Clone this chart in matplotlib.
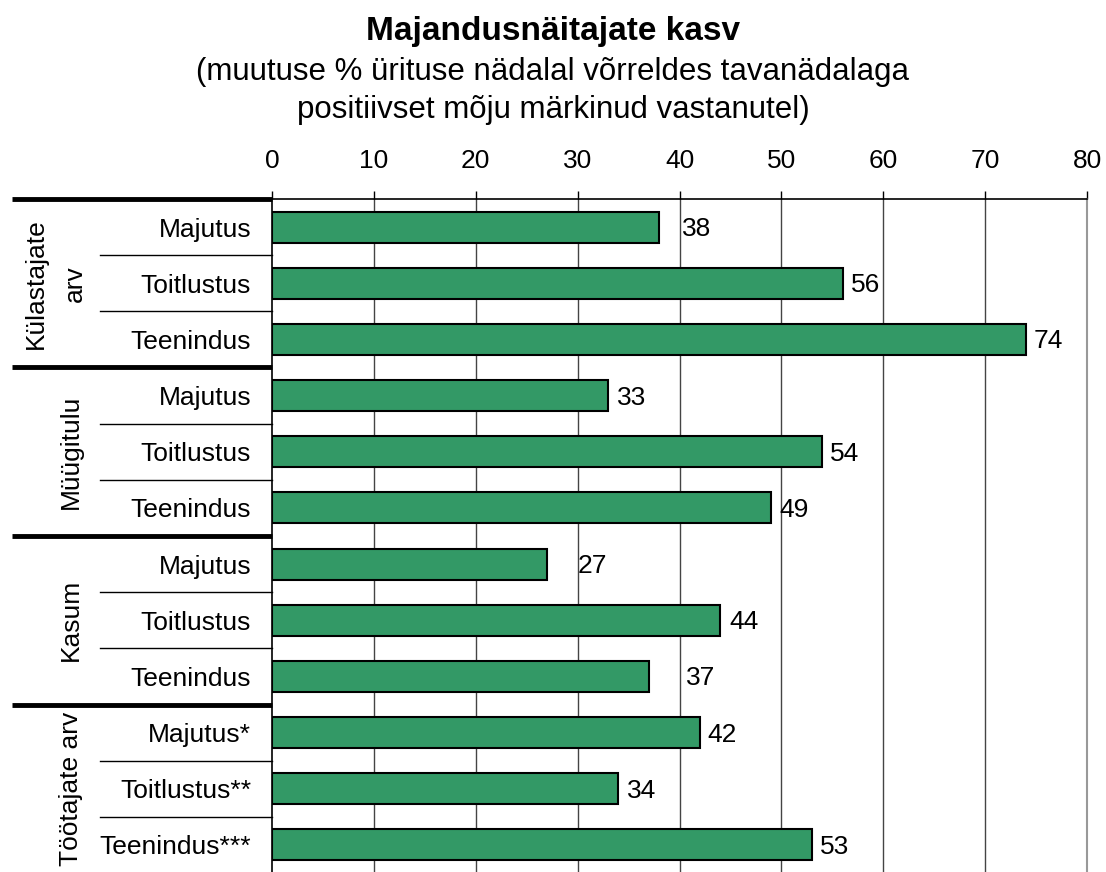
import numpy as np
import matplotlib
matplotlib.use('Agg')
import matplotlib.pyplot as plt
import matplotlib.transforms as mtr

plt.rcParams['font.family'] = ['Liberation Sans', 'DejaVu Sans']

groups = ['Külastajate\narv', 'Müügitulu', 'Kasum', 'Töötajate arv']
categories = ['Majutus', 'Toitlustus', 'Teenindus',
              'Majutus', 'Toitlustus', 'Teenindus',
              'Majutus', 'Toitlustus', 'Teenindus',
              'Majutus*', 'Toitlustus**', 'Teenindus***']
values = [38, 56, 74, 33, 54, 49, 27, 44, 37, 42, 34, 53]
xticks = [0, 10, 20, 30, 40, 50, 60, 70, 80]

# extra label shift in pixels (as in the original layout)
nudge = [23, 8, 8, 9, 8, 8, 31, 9, 37, 8, 9, 8]

W, H = 1106, 872
fig = plt.figure(figsize=(W/100, H/100), dpi=100)
ax = fig.add_axes([272/W, -1/H, (1087-272)/W, (873-199)/H])

y = np.arange(len(values))
ax.barh(y, values, height=0.55, color='#339966', edgecolor='black', linewidth=1.5, zorder=3)
ax.set_xlim(0, 80)
ax.set_ylim(len(values)-0.5, -0.5)
ax.set_xticks(xticks)
ax.xaxis.tick_top()
ax.tick_params(axis='x', direction='out', length=6, width=1, pad=13, labelsize=19, color='black')
ax.set_yticks(y)
ax.set_yticklabels(categories)
ax.tick_params(axis='y', length=0, pad=15, labelsize=19)
for xx in xticks[1:-1]:
    ax.axvline(xx, color='#444444', lw=1, zorder=1)
ax.spines['bottom'].set_visible(False)
ax.spines['right'].set_color('#999999')
ax.spines['right'].set_linewidth(1.5)
ax.spines['top'].set_linewidth(1.2)
ax.spines['left'].set_linewidth(1.2)

for i, v in enumerate(values):
    off = mtr.offset_copy(ax.transData, fig=fig, x=nudge[i], y=-2, units='dots')
    ax.text(v, i, str(v), transform=off, ha='left', va='center', fontsize=19)

# separators on the left
tr = mtr.blended_transform_factory(ax.transAxes, ax.transData)
x_thick = (12-272)/815
x_thin = (100-272)/815
for g in range(4):
    ax.plot([x_thick, 0], [g*3-0.5, g*3-0.5], color='black', lw=3.5, transform=tr, clip_on=False, solid_capstyle='butt')
    for k in (1, 2):
        ax.plot([x_thin, 0], [g*3+k-0.5, g*3+k-0.5], color='black', lw=1, transform=tr, clip_on=False)
    lines = groups[g].split('\n')
    basex = [43, 82] if len(lines) == 2 else [78]
    for ln, bx in zip(lines, basex):
        ax.text((bx-272)/815, g*3+1, ln, transform=tr, rotation=90, rotation_mode='anchor',
                ha='center', va='baseline', fontsize=19)

fig.text(0.5, 1-40/H, 'Majandusnäitajate kasv', ha='center', va='baseline', fontsize=24, fontweight='bold')
fig.text(0.5, 1-80/H, '(muutuse % ürituse nädalal võrreldes tavanädalaga', ha='center', va='baseline', fontsize=22.5)
fig.text(0.5, 1-118/H, 'positiivset mõju märkinud vastanutel)', ha='center', va='baseline', fontsize=22.5)

fig.savefig('out.png', dpi=100)
